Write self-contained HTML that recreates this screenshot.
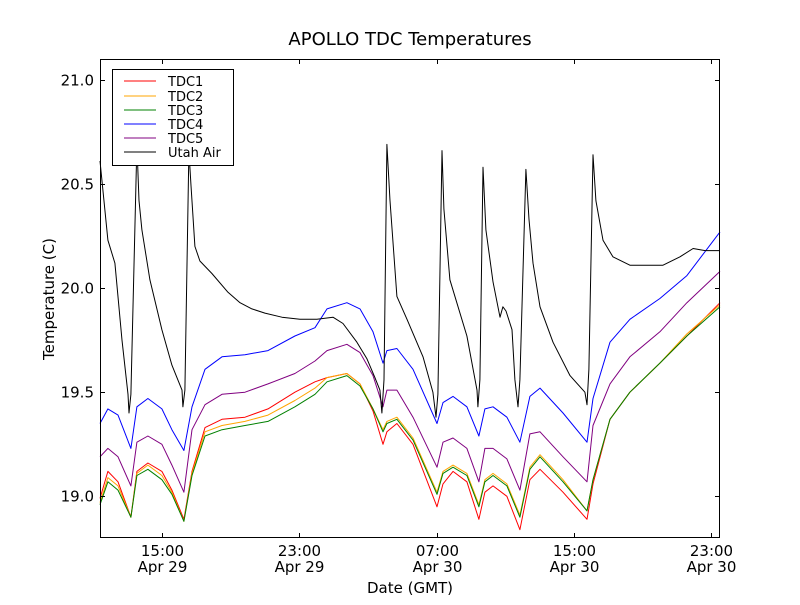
<!DOCTYPE html>
<html><head><meta charset="utf-8"><style>
html,body{margin:0;padding:0;background:#fff;}
svg text{font-family:"DejaVu Sans","Liberation Sans",sans-serif;}
</style></head><body>
<svg id="chart" width="800" height="600" viewBox="0 0 800 600" xmlns="http://www.w3.org/2000/svg">
<rect x="0" y="0" width="800" height="600" fill="#fff"/>
<text x="410" y="45" font-size="18" text-anchor="middle">APOLLO TDC Temperatures</text>
<text x="410" y="593" font-size="15" text-anchor="middle">Date (GMT)</text>
<text x="54" y="299" font-size="15" text-anchor="middle" transform="rotate(-90 54 299)">Temperature (C)</text>
<g id="series"></g>
<g id="axes"></g>
<g>
<rect x="112.5" y="69.5" width="121" height="96" fill="#fff" stroke="#000" stroke-width="1"/>
<line x1="124" y1="81" x2="156" y2="81" stroke="red"/>
<text x="168" y="86" font-size="13">TDC1</text>
<line x1="124" y1="96" x2="156" y2="96" stroke="orange"/>
<text x="168" y="101" font-size="13">TDC2</text>
<line x1="124" y1="110" x2="156" y2="110" stroke="green"/>
<text x="168" y="115" font-size="13">TDC3</text>
<line x1="124" y1="124" x2="156" y2="124" stroke="blue"/>
<text x="168" y="129" font-size="13">TDC4</text>
<line x1="124" y1="138" x2="156" y2="138" stroke="purple"/>
<text x="168" y="143" font-size="13">TDC5</text>
<line x1="124" y1="152" x2="156" y2="152" stroke="#000"/>
<text x="168" y="157" font-size="13">Utah Air</text>
</g>
</svg>
<script>
// hours since Apr 29 00:00 GMT
const tdcTimes = [11.39,11.85,12.44,13.19,13.54,14.18,15.00,15.58,16.28,16.75,17.51,18.50,19.84,21.18,22.75,23.92,24.62,25.78,26.54,27.30,27.88,28.11,28.69,29.63,31.03,31.38,31.96,32.77,33.47,33.82,34.29,35.10,35.86,36.44,37.03,38.37,39.77,40.12,41.11,42.27,44.02,45.59,47.52];
const tdc1 = [18.99,19.12,19.07,18.90,19.12,19.16,19.12,19.03,18.89,19.12,19.33,19.37,19.38,19.42,19.50,19.55,19.57,19.59,19.54,19.41,19.25,19.31,19.35,19.25,18.95,19.06,19.12,19.07,18.89,19.02,19.05,19.00,18.84,19.08,19.13,19.02,18.89,19.06,19.37,19.50,19.64,19.77,19.93];
const tdc2 = [18.97,19.09,19.05,18.90,19.11,19.15,19.10,19.02,18.88,19.11,19.31,19.34,19.36,19.39,19.46,19.52,19.57,19.59,19.54,19.42,19.32,19.36,19.38,19.28,19.02,19.12,19.15,19.11,18.96,19.08,19.11,19.06,18.91,19.14,19.20,19.08,18.93,19.08,19.37,19.50,19.64,19.78,19.92];
const tdc3 = [18.96,19.07,19.03,18.90,19.10,19.13,19.08,19.01,18.88,19.10,19.29,19.32,19.34,19.36,19.43,19.49,19.55,19.58,19.53,19.42,19.31,19.35,19.37,19.27,19.01,19.11,19.14,19.10,18.95,19.07,19.10,19.05,18.90,19.13,19.19,19.07,18.93,19.08,19.37,19.50,19.64,19.77,19.91];
const tdc4 = [19.35,19.42,19.39,19.23,19.43,19.47,19.42,19.32,19.22,19.43,19.61,19.67,19.68,19.70,19.77,19.81,19.90,19.93,19.90,19.79,19.64,19.70,19.71,19.61,19.35,19.45,19.48,19.43,19.29,19.42,19.43,19.38,19.26,19.48,19.52,19.40,19.26,19.47,19.74,19.85,19.95,20.06,20.27];
const tdc5 = [19.19,19.23,19.19,19.05,19.26,19.29,19.25,19.15,19.02,19.32,19.44,19.49,19.50,19.54,19.59,19.65,19.70,19.73,19.69,19.58,19.43,19.51,19.51,19.38,19.14,19.26,19.28,19.23,19.07,19.23,19.23,19.18,19.03,19.30,19.31,19.19,19.07,19.34,19.54,19.67,19.79,19.93,20.08];
const airTimes = [11.39,11.85,12.26,12.67,13.02,13.08,13.19,13.54,13.66,13.83,14.30,15.00,15.58,16.17,16.22,16.34,16.57,16.69,16.92,17.21,17.91,18.85,19.55,20.24,21.00,21.99,23.04,24.03,24.97,25.55,26.36,26.95,27.41,27.70,27.82,27.94,28.11,28.29,28.69,29.28,30.21,30.79,30.97,31.08,31.32,31.43,31.78,32.77,33.36,33.41,33.53,33.71,33.88,34.29,34.70,34.87,35.05,35.40,35.57,35.75,35.86,36.21,36.39,36.62,37.03,37.79,38.78,39.65,39.77,39.88,40.12,40.29,40.70,41.28,42.27,44.20,45.19,45.95,46.65,47.52];
const airTemps = [20.61,20.23,20.12,19.75,19.49,19.40,19.49,20.69,20.42,20.28,20.04,19.80,19.63,19.51,19.43,19.51,20.66,20.50,20.20,20.13,20.07,19.98,19.93,19.90,19.88,19.86,19.85,19.85,19.86,19.83,19.74,19.66,19.57,19.51,19.40,19.56,20.69,20.42,19.96,19.85,19.67,19.50,19.38,19.49,20.66,20.38,20.04,19.77,19.51,19.43,19.56,20.58,20.28,20.03,19.86,19.91,19.89,19.80,19.56,19.43,19.56,20.57,20.33,20.12,19.91,19.74,19.58,19.50,19.44,19.61,20.64,20.42,20.23,20.15,20.11,20.11,20.15,20.19,20.18,20.18];
const yTicks = [19.0,19.5,20.0,20.5,21.0];
const xTicks = [15,23,31,39,47];
const xTickTimes = ["15:00","23:00","07:00","15:00","23:00"];
const xTickDates = ["Apr 29","Apr 29","Apr 30","Apr 30","Apr 30"];

const PL=100, PR=720, PT=59, PB=538;
const X0=11.39, X1=47.52, Y0=18.8, Y1=21.1;
function sx(t){return PL+(t-X0)/(X1-X0)*(PR-PL);}
function sy(v){return PB-(v-Y0)/(Y1-Y0)*(PB-PT);}
const NS="http://www.w3.org/2000/svg";
const series=document.getElementById('series');
const axes=document.getElementById('axes');
function mk(tag,attrs,parent){const e=document.createElementNS(NS,tag);for(const k in attrs)e.setAttribute(k,attrs[k]);parent.appendChild(e);return e;}
function line(times,vals,color,name){
  const d=times.map((t,i)=>(i?'L':'M')+sx(t).toFixed(1)+' '+sy(vals[i]).toFixed(1)).join(' ');
  const p=mk('path',{d:d,fill:'none',stroke:color,'stroke-width':1,'stroke-linejoin':'round'},series);
  
  
}
mk('clipPath',{id:'clip'},document.getElementById('chart'));
line(tdcTimes,tdc1,'red','series-tdc1');
line(tdcTimes,tdc2,'orange','series-tdc2');
line(tdcTimes,tdc3,'green','series-tdc3');
line(tdcTimes,tdc4,'blue','series-tdc4');
line(tdcTimes,tdc5,'purple','series-tdc5');
line(airTimes,airTemps,'#000','series-utah-air');

const frame=mk('rect',{x:PL+0.5,y:PT+0.5,width:PR-PL-1,height:PB-PT-1,fill:'none',stroke:'#000','stroke-width':1},axes);


yTicks.forEach(v=>{
  const y=Math.round(sy(v))+0.5;
  const a=mk('line',{x1:PL,y1:y,x2:PL+5,y2:y,stroke:'#000'},axes);
  
  
  const b=mk('line',{x1:PR-5,y1:y,x2:PR,y2:y,stroke:'#000'},axes);
  
  
  const t=mk('text',{x:PL-6,y:y+5,'font-size':15,'text-anchor':'end'},axes);
  t.textContent=v.toFixed(1);
  
  
});
xTicks.forEach((h,i)=>{
  const x=Math.round(sx(h))+0.5;
  const a=mk('line',{x1:x,y1:PB,x2:x,y2:PB-5,stroke:'#000'},axes);
  
  
  const b=mk('line',{x1:x,y1:PT,x2:x,y2:PT+5,stroke:'#000'},axes);
  
  
  const t1=mk('text',{x:x,y:556,'font-size':15,'text-anchor':'middle'},axes);
  t1.textContent=xTickTimes[i];
  
  
  const t2=mk('text',{x:x,y:572,'font-size':15,'text-anchor':'middle'},axes);
  t2.textContent=xTickDates[i];
  
  
});
</script>
</body></html>
